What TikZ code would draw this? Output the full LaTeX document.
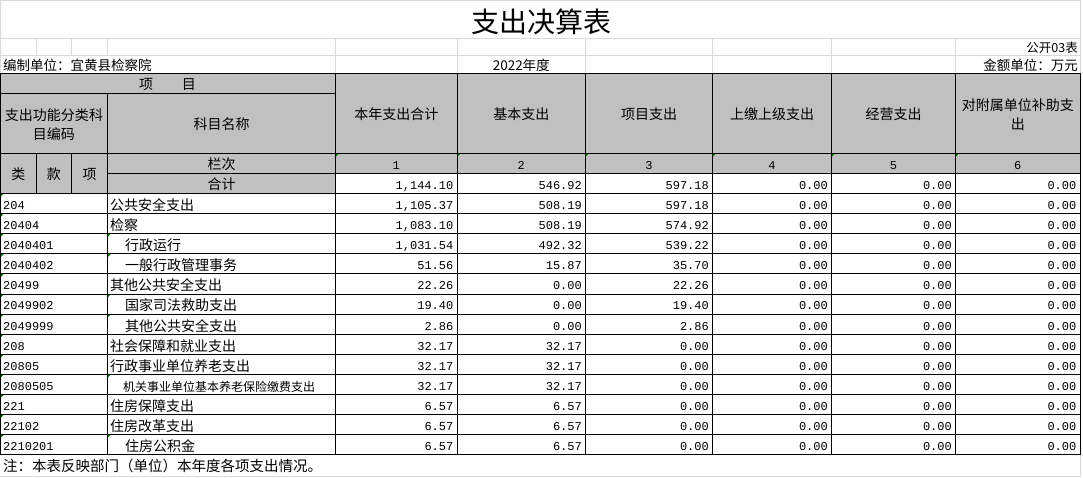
\documentclass[tikz,border=0pt]{standalone}
\usepackage{fontspec}
\setmainfont{Noto Sans CJK SC}
\newfontfamily\numfont{Liberation Mono}
\definecolor{hdrgray}{HTML}{C0C0C0}
\definecolor{gridgray}{HTML}{D9D9D9}
\definecolor{markgreen}{HTML}{008000}

\begin{document}
\begin{tikzpicture}[x=1pt, y=-1pt,
  grid/.style={gridgray, line width=0.8pt},
  rule/.style={black, line width=1pt},
  txt/.style={inner sep=0pt, font=\fontsize{14}{19}\selectfont},
  numtxt/.style={inner sep=0pt, anchor=base east, font=\numfont\fontsize{12}{14}\selectfont},
  codetxt/.style={inner sep=0pt, anchor=base west, font=\numfont\fontsize{12}{14}\selectfont},
  hdrtxt/.style={txt, align=center}]
\useasboundingbox (0,0) rectangle (1083,478);

% sheet grid
\draw[grid] (0,0.5) -- (1081,0.5);
\draw[grid] (0,38.5) -- (1081,38.5);
\draw[grid] (0,55.5) -- (1081,55.5);
\draw[grid] (0,476.5) -- (1081,476.5);
\draw[grid] (0.5,0) -- (0.5,73.5);
\draw[grid] (1080.5,0) -- (1080.5,476.5);
\foreach \gx in {36,71.5,107.5}
  \draw[grid] (\gx,38.5) -- (\gx,55.5);
\foreach \gx in {335.5,457,585.5,712.5,831.5,955.5}
  \draw[grid] (\gx,38.5) -- (\gx,73.5);

% header fill
\fill[hdrgray] (0.5,73.5) rectangle (1080,173.5);
\fill[hdrgray] (0.5,173.5) rectangle (335.5,193.5);

% titles
\node[inner sep=0pt, font=\fontsize{28}{30}\selectfont] (title) at (541.5,22) {支出决算表};
\node[txt, anchor=base east, font=\fontsize{12.5}{14}\selectfont] (sheetno) at (1078,52.5) {公开03表};
\node[txt, anchor=base west, font=\fontsize{13.5}{15}\selectfont] (unit) at (3,71) {编制单位：宜黄县检察院};
\node[txt, anchor=base, font=\fontsize{13.5}{15}\selectfont] (year) at (521.25,71) {2022年度};
\node[txt, anchor=base east, font=\fontsize{13.5}{15}\selectfont] (money) at (1078,71) {金额单位：万元};

% header texts
\node[hdrtxt] (item) at (167.5,84) {项\hspace{29pt}目};
\node[hdrtxt] (fcode) at (54,124.5) {支出功能分类科\\目编码};
\node[hdrtxt] (fname) at (221.5,124.5) {科目名称};
\node[hdrtxt] (lei) at (18.25,174.5) {类};
\node[hdrtxt] (kuan) at (53.75,174.5) {款};
\node[hdrtxt] (xiang) at (89.5,174.5) {项};
\node[txt, anchor=base] (lanci) at (221.5,169.5) {栏次};
\node[txt, anchor=base] (heji) at (221.5,190) {合计};
\foreach \cx/\hd/\n in {396.25/本年支出合计/1, 521.25/基本支出/2, 649/项目支出/3,
    772/上缴上级支出/4, 893.5/经营支出/5, 1017.75/对附属单位补助支\\出/6} {
  \node[hdrtxt] (hd\n) at (\cx,114.5) {\hd};
  \node[inner sep=0pt, anchor=base, font=\numfont\fontsize{12}{14}\selectfont] (no\n) at (\cx,169.5) {\n};
}

% total row
\foreach \rx/\val/\n in {453.5/{1,144.10}/1, 582/546.92/2, 709/597.18/3,
    828/0.00/4, 952/0.00/5, 1076.5/0.00/6}
  \node[numtxt] (tot\n) at (\rx,189.3) {\val};

% data rows
\foreach \code/\nm/\nx/\fs/\va/\vb/\vc [count=\i] in {
  204/公共安全支出/110/14/{1,105.37}/508.19/597.18,
  20404/检察/110/14/{1,083.10}/508.19/574.92,
  2040401/行政运行/125/14/{1,031.54}/492.32/539.22,
  2040402/一般行政管理事务/125/14/51.56/15.87/35.70,
  20499/其他公共安全支出/110/14/22.26/0.00/22.26,
  2049902/国家司法救助支出/125/14/19.40/0.00/19.40,
  2049999/其他公共安全支出/125/14/2.86/0.00/2.86,
  208/社会保障和就业支出/110/14/32.17/32.17/0.00,
  20805/行政事业单位养老支出/110/14/32.17/32.17/0.00,
  2080505/机关事业单位基本养老保险缴费支出/123/12/32.17/32.17/0.00,
  221/住房保障支出/110/14/6.57/6.57/0.00,
  22102/住房改革支出/110/14/6.57/6.57/0.00,
  2210201/住房公积金/125/14/6.57/6.57/0.00} {
  \pgfmathsetmacro\yb{193.5+20.1*\i}
  \node[codetxt] (code\i) at (3,\yb-4.2) {\code};
  \node[txt, anchor=base west, font=\fontsize{\fs}{\fs}\selectfont] (name\i) at (\nx,\yb-3.2) {\nm};
  \node[numtxt] (v\i-1) at (453.5,\yb-4.2) {\va};
  \node[numtxt] (v\i-2) at (582,\yb-4.2) {\vb};
  \node[numtxt] (v\i-3) at (709,\yb-4.2) {\vc};
  \node[numtxt] (v\i-4) at (828,\yb-4.2) {0.00};
  \node[numtxt] (v\i-5) at (952,\yb-4.2) {0.00};
  \node[numtxt] (v\i-6) at (1076.5,\yb-4.2) {0.00};
  \fill[markgreen] (0.5,\yb-20.1) -- ++(3.5,0) -- ++(-3.5,3.5) -- cycle;
  \ifnum\nx>111 \fill[markgreen] (107.5,\yb-20.1) -- ++(3.5,0) -- ++(-3.5,3.5) -- cycle; \fi
}
\foreach \gx in {335.5,457,585.5,712.5,831.5,955.5}
  \fill[markgreen] (\gx,153.5) -- ++(3.5,0) -- ++(-3.5,3.5) -- cycle;

% table rules
\draw[rule] (0.5,73.5) rectangle (1080,454.8);
\draw[rule] (0.5,93.5) -- (335.5,93.5);
\draw[rule] (0.5,153.5) -- (1080,153.5);
\draw[rule] (107.5,173.5) -- (1080,173.5);
\foreach \r in {0,...,12}
  \draw[rule] (0.5,193.5+20.1*\r) -- (1080,193.5+20.1*\r);
\draw[rule] (107.5,93.5) -- (107.5,454.8);
\draw[rule] (36,153.5) -- (36,193.5);
\draw[rule] (71.5,153.5) -- (71.5,193.5);
\foreach \gx in {335.5,457,585.5,712.5,831.5,955.5}
  \draw[rule] (\gx,73.5) -- (\gx,454.8);

\node[txt, anchor=base west, font=\fontsize{14.5}{16}\selectfont] (note) at (3,471) {注：本表反映部门（单位）本年度各项支出情况。};
\end{tikzpicture}
\end{document}
